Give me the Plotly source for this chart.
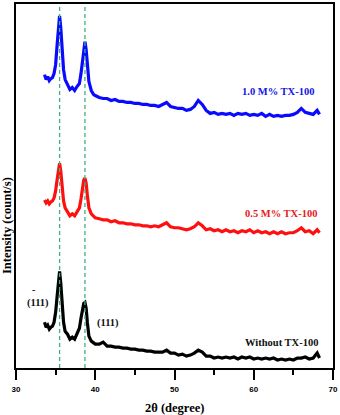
import plotly.graph_objects as go

# 2-theta grid (degree)
two_theta = [33.6, 33.8, 34.0, 34.2, 34.4, 34.6, 34.8, 35.0, 35.2, 35.35, 35.5, 35.65, 35.8,
             36.0, 36.2, 36.5, 36.8, 37.1, 37.4, 37.7, 38.0, 38.2, 38.4, 38.55, 38.7, 38.85,
             39.0, 39.2, 39.5, 39.8, 40.0,
             40.5, 41.0, 41.5, 42.0, 42.5, 43.0, 43.5, 44.0, 44.5, 45.0, 45.5, 46.0, 46.5,
             47.0, 47.5, 48.0, 48.5, 49.0, 49.5, 50.0, 50.5, 51.0, 51.5, 52.0, 52.5, 53.0,
             53.5, 54.0, 54.5, 55.0, 55.5, 56.0, 56.5, 57.0, 57.5, 58.0, 58.5, 59.0, 59.5,
             60.0, 60.5, 61.0, 61.5, 62.0, 62.5, 63.0, 63.5, 64.0, 64.5, 65.0, 65.5, 66.0,
             66.5, 67.0, 67.5, 68.0, 68.3]

# Intensities (a.u., stacked patterns)
tx100_10 = [295, 290, 293, 289, 291, 292, 296, 305, 326, 344, 354, 342, 322, 300, 290, 285,
            280, 282, 279, 283, 286, 296, 312, 324, 328, 320, 304, 288, 279, 275, 274,
            272, 271, 271, 269, 270, 268, 268, 267, 267, 266, 266, 265, 265, 264, 264, 263,
            265, 267, 263, 262, 261, 261, 259, 260, 263, 269, 265, 259, 256, 257, 255, 256,
            255, 256, 254, 256, 255, 256, 254, 255, 254, 256, 253, 255, 253, 254, 253, 254,
            254, 255, 257, 261, 257, 256, 255, 259, 255]
tx100_05 = [169, 166, 168, 165, 167, 168, 171, 178, 190, 200, 206, 198, 184, 168, 161, 157,
            153, 155, 153, 157, 161, 170, 182, 189, 191, 186, 174, 161, 155, 152, 151,
            150, 149, 149, 147, 148, 146, 146, 145, 145, 144, 144, 143, 143, 142, 143, 142,
            144, 146, 142, 141, 141, 140, 139, 140, 142, 146, 143, 139, 140, 138, 139, 137,
            139, 137, 138, 136, 138, 137, 139, 136, 138, 136, 137, 135, 137, 135, 137, 135,
            136, 136, 138, 141, 137, 138, 135, 139, 136]
without_tx = [46, 41, 43, 39, 41, 42, 46, 56, 73, 88, 97, 85, 65, 46, 37, 34,
              29, 31, 29, 34, 40, 50, 60, 65, 66, 60, 46, 32, 27, 25, 24,
              24, 26, 22, 22, 21, 21, 20, 20, 19, 19, 18, 18, 17, 17, 16, 16,
              16, 18, 15, 15, 13, 14, 12, 13, 15, 18, 16, 12, 12, 10, 11, 10,
              11, 10, 11, 9, 11, 10, 11, 9, 10, 9, 10, 9, 10, 8, 9, 8,
              9, 8, 10, 10, 11, 9, 10, 15, 10]

peak_positions = [35.5, 38.7]
series_labels = ["1.0 M% TX-100", "0.5 M% TX-100", "Without TX-100"]
x_ticks = [30, 40, 50, 60, 70]

serif = "Liberation Serif"
fig = go.Figure()

for y, col in [(tx100_10, "#0a0aff"), (tx100_05, "#ff1010"), (without_tx, "#000000")]:
    fig.add_trace(go.Scatter(x=two_theta, y=y, mode="lines",
                             line=dict(color=col, width=3.2), showlegend=False))

for p in peak_positions:
    fig.add_shape(type="line", x0=p, x1=p, y0=0, y1=1, yref="paper", xref="x",
                  line=dict(color="#3cb37a", width=1.3, dash="4px,3px"))

fig.add_annotation(x=63.1, y=278, text="<b>" + series_labels[0] + "</b>", showarrow=False,
                   font=dict(family=serif, size=10.5, color="#1414e6"))
fig.add_annotation(x=63.5, y=155, text="<b>" + series_labels[1] + "</b>", showarrow=False,
                   font=dict(family=serif, size=10.5, color="#e61a1a"))
fig.add_annotation(x=63.5, y=26, text="<b>" + series_labels[2] + "</b>", showarrow=False,
                   font=dict(family=serif, size=10.5, color="#111"))
fig.add_annotation(x=32.8, y=65, text="<b>(111)</b>", showarrow=False,
                   font=dict(family=serif, size=10.5, color="#111"))
fig.add_annotation(x=32.15, y=79, text="<b>-</b>", showarrow=False,
                   font=dict(family=serif, size=10, color="#111"))
fig.add_annotation(x=41.6, y=45, text="<b>(111)</b>", showarrow=False,
                   font=dict(family=serif, size=10.5, color="#111"))

fig.add_annotation(x=0.5, xref="paper", y=0, yref="paper", yshift=-31,
                   text="<b>2θ (degree)</b>", showarrow=False, yanchor="top",
                   font=dict(family=serif, size=12.5, color="#000"))
fig.add_annotation(x=0, xref="paper", xshift=-9, xanchor="center", y=0.39, yref="paper",
                   text="<b>Intensity (count/s)</b>", showarrow=False, textangle=-90,
                   font=dict(family=serif, size=12.5, color="#000"))

fig.update_xaxes(range=[30, 70], tickvals=x_ticks, ticktext=[f"<b>{t}</b>" for t in x_ticks],
                 ticks="outside", ticklen=10, tickwidth=1.5, tickcolor="#000",
                 minor=dict(dtick=5, tick0=30, ticks="outside", ticklen=5, tickwidth=1.5,
                            tickcolor="#000"),
                 showline=True, linecolor="#000", linewidth=1.5, mirror=True,
                 showgrid=False, zeroline=False, ticklabelstandoff=3,
                 tickfont=dict(family="Liberation Sans", size=8, color="#000"))
fig.update_yaxes(range=[0, 366], showticklabels=False, ticks="", showline=True,
                 linecolor="#000", linewidth=1.5, mirror=True, showgrid=False, zeroline=False)

fig.update_layout(width=340, height=415, margin=dict(l=16, r=6, t=2, b=47),
                  paper_bgcolor="white", plot_bgcolor="white")

fig.write_html("out.html")
